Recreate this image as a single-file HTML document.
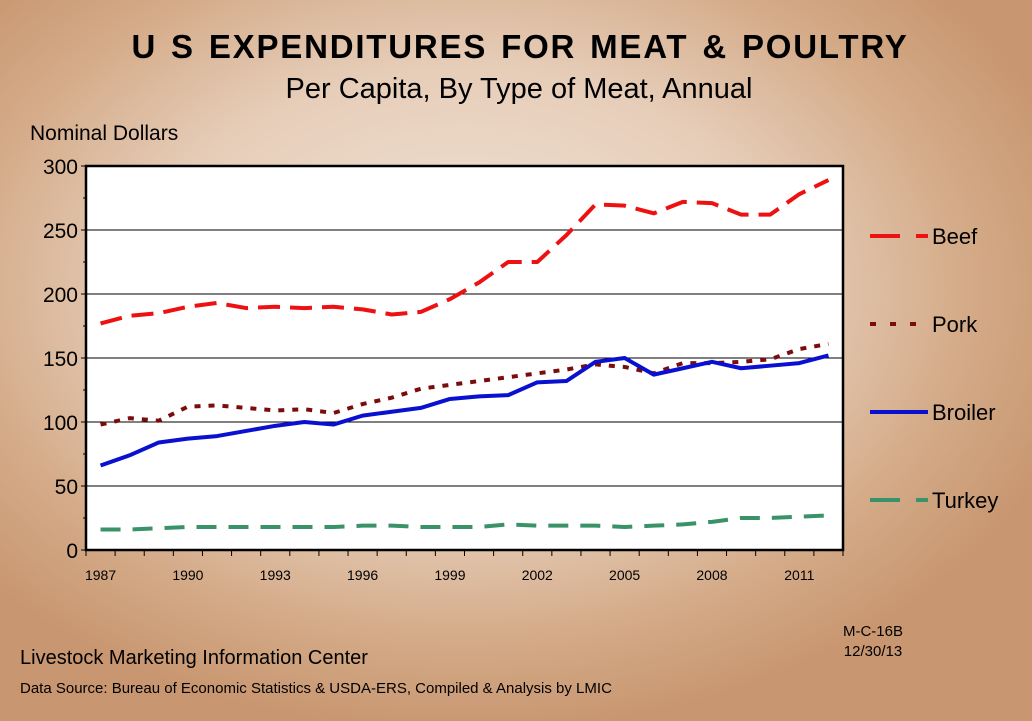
<!DOCTYPE html>
<html><head><meta charset="utf-8"><style>
html,body{margin:0;padding:0}
body{width:1032px;height:721px;overflow:hidden;font-family:"Liberation Sans",Arial,sans-serif;
background:radial-gradient(ellipse 62% 62% at 45% 40%, #f2e5da 0%, #e6cdb8 50%, #d3a986 80%, #c89670 100%);}
svg{position:absolute;left:0;top:0}
</style></head><body>
<svg width="1032" height="721" id="c">
<text x="520" y="58" text-anchor="middle" font-size="33" font-weight="bold" letter-spacing="1.8" word-spacing="3" fill="#000">U S  EXPENDITURES  FOR  MEAT  &amp;  POULTRY</text>
<text x="519" y="98" text-anchor="middle" font-size="29" fill="#000">Per Capita, By Type of Meat, Annual</text>
<text x="30" y="140" font-size="21" fill="#000">Nominal Dollars</text>
<rect x="86" y="166" width="757" height="384" fill="#fff"/>
<g id="grid"></g><g id="series"></g><g id="axes"></g><g id="legend"></g>
<text x="20" y="664" font-size="20" fill="#000">Livestock Marketing Information Center</text>
<text x="20" y="693" font-size="15" fill="#000">Data Source:  Bureau of Economic Statistics &amp; USDA-ERS, Compiled &amp; Analysis by LMIC</text>
<text x="873" y="636" text-anchor="middle" font-size="15" fill="#000">M-C-16B</text>
<text x="873" y="656" text-anchor="middle" font-size="15" fill="#000">12/30/13</text>
</svg>
<script>
const years=[1987,1988,1989,1990,1991,1992,1993,1994,1995,1996,1997,1998,1999,2000,2001,2002,2003,2004,2005,2006,2007,2008,2009,2010,2011,2012];
const beef=[177,183,185,190,193,189,190,189,190,188,184,186,196,209,225,225,246,270,269,263,272,271,262,262,278,289];
const pork=[98,103,101,112,113,111,109,110,107,114,119,126,129,132,135,138,141,145,143,138,146,146,147,149,157,161];
const broiler=[66,74,84,87,89,93,97,100,98,105,108,111,118,120,121,131,132,147,150,137,142,147,142,144,146,152];
const turkey=[16,16,17,18,18,18,18,18,18,19,19,18,18,18,20,19,19,19,18,19,20,22,25,25,26,27];
const yTicks=[0,50,100,150,200,250,300];
const xLabelYears=[1987,1990,1993,1996,1999,2002,2005,2008,2011];
const X0=86,W=757,Y0=550,H=384,YMAX=300;
const step=W/years.length;
const xs=i=>X0+(i+0.5)*step;
const ys=v=>Y0-v/YMAX*H;
const NS='http://www.w3.org/2000/svg';
function mk(t,a,p){const e=document.createElementNS(NS,t);for(const k in a)e.setAttribute(k,a[k]);p.appendChild(e);return e;}
const grid=document.getElementById('grid'),axes=document.getElementById('axes'),ser=document.getElementById('series'),leg=document.getElementById('legend');
yTicks.forEach(v=>{
 if(v>0&&v<YMAX){const l=mk('line',{x1:X0,x2:X0+W,y1:ys(v),y2:ys(v),stroke:'#000','stroke-width':1},grid);
 
 }
 const t=mk('text',{x:X0-8,y:ys(v)+8,'text-anchor':'end','font-size':21,fill:'#000'},axes);t.textContent=v;
 
 
 mk('line',{x1:X0-5,x2:X0,y1:ys(v),y2:ys(v),stroke:'#000','stroke-width':1},axes);
 if(v<YMAX) mk('line',{x1:X0-3,x2:X0,y1:ys(v+25),y2:ys(v+25),stroke:'#000','stroke-width':1},axes);
});
for(let i=0;i<=years.length;i++){mk('line',{x1:X0+i*step,x2:X0+i*step,y1:Y0,y2:Y0+6,stroke:'#000','stroke-width':1},axes);}
xLabelYears.forEach(y=>{const i=years.indexOf(y);const t=mk('text',{x:xs(i),y:Y0+30,'text-anchor':'middle','font-size':14,fill:'#000'},axes);t.textContent=y;
 
 });
const fr=mk('rect',{x:X0,y:Y0-H,width:W,height:H,fill:'none',stroke:'#000','stroke-width':2.5},axes);


const S=[
 {name:'Beef',d:beef,c:'#ee1111',dash:'22 10',ly:236},
 {name:'Pork',d:pork,c:'#7a0c0c',dash:'6 8',ly:324},
 {name:'Broiler',d:broiler,c:'#0a10d0',dash:'',ly:412},
 {name:'Turkey',d:turkey,c:'#3a9268',dash:'20 12',ly:500}];
S.forEach(s=>{
 const p=mk('polyline',{points:s.d.map((v,i)=>xs(i)+','+ys(v)).join(' '),fill:'none',stroke:s.c,'stroke-width':4,'stroke-dasharray':s.dash,'stroke-linejoin':'round'},ser);
 
 
 const g=mk('g',{},leg);
 
 
 mk('line',{x1:870,x2:928,y1:s.ly,y2:s.ly,stroke:s.c,'stroke-width':4,'stroke-dasharray':s.name==='Pork'?'6 14':(s.name==='Broiler'?'':'30 16')},g);
 const t=mk('text',{x:932,y:s.ly+8,'font-size':22,fill:'#000'},g);t.textContent=s.name;
});
</script>
</body></html>
